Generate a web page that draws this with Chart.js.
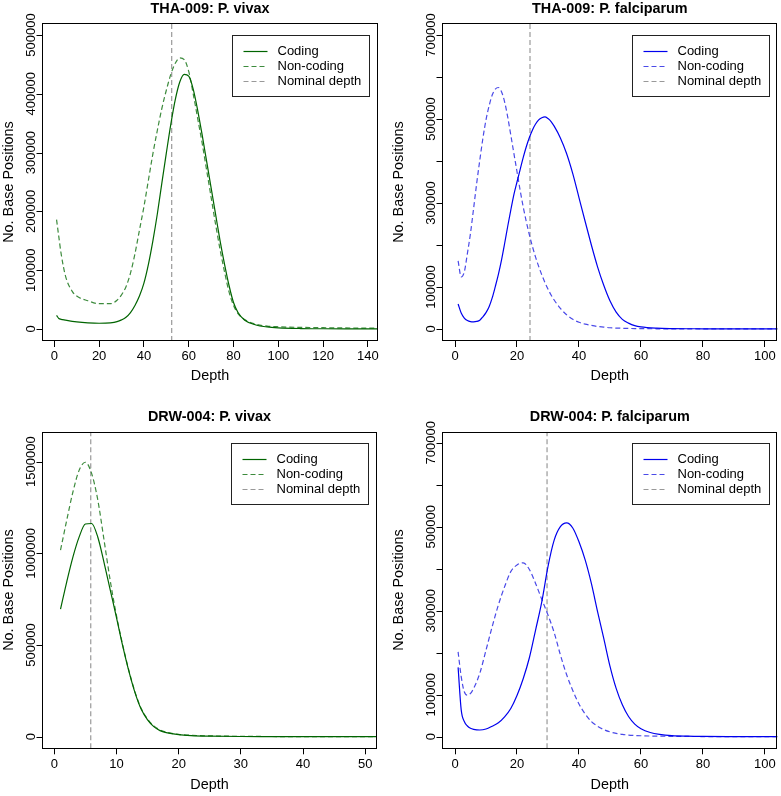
<!DOCTYPE html>
<html lang="en">
<head>
<meta charset="UTF-8">
<title>Depth distributions: THA-009 and DRW-004</title>
<script src="https://cdn.jsdelivr.net/npm/chart.js"></script>
<style>
  body { margin: 0; background: #fff; }
  #wrap { position: relative; width: 781px; height: 796px; }
  canvas { position: absolute; }
</style>
</head>
<body>
<div id="wrap">
  <canvas id="c1" width="390" height="400" style="left:0;top:0"></canvas>
  <canvas id="c2" width="391" height="400" style="left:390px;top:0"></canvas>
  <canvas id="c3" width="390" height="396" style="left:0;top:400px"></canvas>
  <canvas id="c4" width="391" height="396" style="left:390px;top:400px"></canvas>
</div>
<script>
// THA-009: P. vivax
const thaVivDepth = [1,2,3,5,8,10,15,20,25,28,30,32,34,36,38,40,42,44,46,48,50,52,54,56,58,60,62,64,66,68,70,72,74,76,78,80,82,85,90,95,100,110,120,130,145,150];
const thaVivCoding = [23000,18000,16500,15000,13000,12000,10500,9800,10500,12500,15500,20000,28000,40000,56000,78000,110000,150000,196000,248000,299000,348000,390000,420000,433000,430000,408000,372000,330000,285000,240000,195000,150000,110000,74000,45000,28000,15000,6800,3500,2000,800,400,200,80,50];
const thaVivNonCoding = [186000,157000,129000,90000,64000,56000,48000,43000,43000,49000,58000,72000,95000,128000,168000,208000,253000,298000,338000,375000,406000,433000,452000,461000,458000,438000,400000,358000,316000,270000,224000,178000,135000,97000,63000,40000,26000,16000,8000,5000,3800,2800,2200,1800,1500,1400];
const thaVivNominal = 52.4;

// THA-009: P. falciparum
const thaFalDepth = [1,2,3,4,5,6,7,8,9,10,11,12,13,14,15,16,17,18,19,20,21,22,23,24,25,26,27,28,29,30,31,32,34,36,38,40,42,44,46,48,50,52,54,56,58,60,65,70,80,90,105];
const thaFalCoding = [59500,38000,26000,20000,17500,17000,18000,21000,29000,39000,53000,74000,101000,130000,164000,203000,244000,283000,320000,350000,379000,408000,434000,456000,474000,488000,498000,503000,505000,501000,494000,483000,455000,418000,370000,313000,256000,200000,148000,104000,67000,40000,23000,14000,8000,5000,2000,1000,500,300,100];
const thaFalNonCoding = [162000,124000,136000,180000,228000,287000,347000,402000,454000,498000,531000,557000,571000,575000,565000,541000,505000,462000,418000,375000,331000,291000,256000,224000,196000,171000,149000,129000,111000,95000,81000,69000,49000,34000,23000,16000,11500,8500,6000,4500,3000,2200,1700,1300,1000,800,500,300,150,80,50];
const thaFalNominal = 24.2;

// DRW-004: P. vivax
const drwVivDepth = [1,2,3,4,5,6,7,8,9,10,11,12,13,14,15,16,17,18,20,22,25,30,35,40,45,53];
const drwVivCoding = [696000,845000,981000,1090000,1160000,1163000,1088000,950000,800000,650000,495000,356000,238000,148000,92000,55000,33000,22000,11000,6000,3000,1000,500,200,100,50];
const drwVivNonCoding = [1018000,1181000,1336000,1454000,1497000,1436000,1290000,1072000,850000,660000,500000,360000,242000,152000,96000,59000,37000,25000,13000,8000,4500,2000,1000,500,300,200];
const drwVivNominal = 5.86;

// DRW-004: P. falciparum
const drwFalDepth = [1,2,3,4,5,6,8,10,12,14,16,18,20,22,24,26,28,30,32,34,36,38,40,42,44,46,48,50,52,54,56,58,60,63,66,70,75,80,90,105];
const drwFalCoding = [165000,64000,36000,25500,20000,17600,16000,18300,25000,33000,47000,67000,98000,138000,188000,254000,321000,405000,468000,500000,509000,497000,464000,421000,365000,298000,234000,168000,115000,76000,48000,30000,19000,10000,5500,2500,1200,600,200,50];
const drwFalNonCoding = [202000,143000,107000,99000,103000,115000,151000,206000,262000,314000,357000,393000,409000,414000,398000,365000,327000,290000,248000,195000,148000,110000,78000,54000,36000,25000,17000,11500,8000,5500,4000,3000,2300,1600,1200,900,600,400,200,100];
const drwFalNominal = 29.7;

// y tick marks, and the ones R labels (it drops labels that would overlap)
const vivaxTopYTicks = [0,100000,200000,300000,400000,500000];
const vivaxTopYLabels = [0,100000,200000,300000,400000,500000];
const falcYTicks = [0,100000,200000,300000,400000,500000,600000,700000];
const falcYLabels = [0,100000,300000,500000,700000];
const vivaxBottomYTicks = [0,500000,1000000,1500000];
const vivaxBottomYLabels = [0,500000,1000000,1500000];

const FONT = '"Liberation Sans", Arial, Helvetica, sans-serif';
Chart.defaults.font.family = FONT;
Chart.defaults.color = '#000';

const pts = (xs, ys) => xs.map((x, i) => ({x: x, y: ys[i]}));

// box, y axis ticks/labels and boxed legend, drawn the way base R does it
const rFrame = {
  id: 'rFrame',
  afterDraw(chart, args, opts) {
    const {ctx, chartArea: a} = chart;
    ctx.save();
    ctx.strokeStyle = '#000';
    ctx.lineWidth = 1;
    ctx.setLineDash([]);
    ctx.strokeRect(Math.round(a.left) + 0.5, Math.round(a.top) + 0.5,
      Math.round(a.right - a.left) - 1, Math.round(a.bottom - a.top) - 1);

    const ys = chart.scales.y;
    const x0 = Math.round(a.left) + 0.5;
    ctx.beginPath();
    opts.yTicks.forEach(v => {
      const py = Math.round(ys.getPixelForValue(v)) + 0.5;
      ctx.moveTo(x0 - 6, py);
      ctx.lineTo(x0, py);
    });
    ctx.stroke();

    ctx.font = '13px ' + FONT;
    ctx.fillStyle = '#000';
    ctx.textAlign = 'center';
    ctx.textBaseline = 'alphabetic';
    opts.yLabels.forEach(v => {
      ctx.save();
      ctx.translate(a.left - 7, ys.getPixelForValue(v));
      ctx.rotate(-Math.PI / 2);
      ctx.fillText(String(v), 0, 0);
      ctx.restore();
    });

    // legend
    const lw = 137, lh = 61;
    const lx = Math.round(a.right - opts.legendRight - lw) + 0.5;
    const ly = Math.round(a.top + opts.legendTop) + 0.5;
    ctx.fillStyle = '#fff';
    ctx.fillRect(lx, ly, lw, lh);
    ctx.strokeStyle = '#222';
    ctx.strokeRect(lx, ly, lw, lh);
    chart.data.datasets.forEach((ds, i) => {
      const y = Math.round(ly + 15 + i * 15.3) + 0.5;
      ctx.strokeStyle = ds.borderColor;
      ctx.lineWidth = 1.2;
      ctx.setLineDash(ds.borderDash || []);
      ctx.beginPath();
      ctx.moveTo(lx + 11, y);
      ctx.lineTo(lx + 35, y);
      ctx.stroke();
      ctx.setLineDash([]);
      ctx.fillStyle = '#000';
      ctx.textAlign = 'left';
      ctx.textBaseline = 'middle';
      ctx.fillText(ds.label, lx + 45, y);
    });
    ctx.restore();
  }
};

function makePanel(id, p) {
  const canvas = document.getElementById(id);
  const W = canvas.width, H = canvas.height;
  new Chart(canvas, {
    type: 'line',
    data: {
      datasets: [
        { label: 'Coding', data: pts(p.depth, p.coding), borderColor: p.solid,
          borderWidth: 1.2, pointRadius: 0, cubicInterpolationMode: 'monotone' },
        { label: 'Non-coding', data: pts(p.depth, p.nonCoding), borderColor: p.dashed,
          borderWidth: 1.2, borderDash: [5, 3], pointRadius: 0, cubicInterpolationMode: 'monotone' },
        { label: 'Nominal depth', data: [{x: p.nominal, y: p.yMin}, {x: p.nominal, y: p.yMax}],
          borderColor: '#999999', borderWidth: 1.2, borderDash: [5, 3], pointRadius: 0, tension: 0 }
      ]
    },
    options: {
      responsive: false,
      animation: false,
      events: [],
      layout: { padding: { left: 0, top: 0, bottom: 0, right: W - p.box.right } },
      plugins: {
        legend: { display: false },
        tooltip: { enabled: false },
        title: {
          display: true, text: p.title, fullSize: false, color: '#000',
          font: { size: 14.4, weight: 'bold', lineHeight: 1 },
          padding: { top: p.titlePad[0], bottom: p.titlePad[1] }
        },
        rFrame: { yTicks: p.yTicks, yLabels: p.yLabels, legendRight: p.legendRight, legendTop: p.legendTop }
      },
      scales: {
        x: {
          type: 'linear', min: p.xMin, max: p.xMax,
          border: { display: false },
          grid: { drawOnChartArea: false, drawTicks: true, tickLength: 6, tickColor: '#000', tickWidth: 1 },
          ticks: { stepSize: p.xStep, includeBounds: false, autoSkip: false, maxRotation: 0,
                   padding: 2, font: { size: 13 }, color: '#000' },
          title: { display: true, text: 'Depth', color: '#000', font: { size: 14.4, lineHeight: 1 },
                   padding: { top: 0, bottom: p.xTitlePad } },
          afterFit: s => { s.height = H - p.box.bottom; }
        },
        y: {
          type: 'linear', min: p.yMin, max: p.yMax,
          border: { display: false },
          grid: { display: false },
          ticks: { display: false },
          title: { display: true, text: 'No. Base Positions', color: '#000', font: { size: 14.4, lineHeight: 1 },
                   padding: { top: 2.3, bottom: 0 } },
          afterFit: s => { s.width = p.box.left; }
        }
      }
    },
    plugins: [rFrame]
  });
}

const GREEN = '#006400', GREEN_DASH = '#3d8b3d';
const BLUE = '#0000ee', BLUE_DASH = '#4a4ae8';

makePanel('c1', {
  title: 'THA-009: P. vivax', depth: thaVivDepth, coding: thaVivCoding, nonCoding: thaVivNonCoding,
  nominal: thaVivNominal, solid: GREEN, dashed: GREEN_DASH,
  xMin: -5.5, xMax: 144.5, xStep: 20, yMin: -20400, yMax: 520400,
  yTicks: vivaxTopYTicks, yLabels: vivaxTopYLabels,
  box: { left: 42, right: 378, bottom: 341 }, titlePad: [1.5, 7.1], xTitlePad: 16.6,
  legendRight: 9, legendTop: 12
});
makePanel('c2', {
  title: 'THA-009: P. falciparum', depth: thaFalDepth, coding: thaFalCoding, nonCoding: thaFalNonCoding,
  nominal: thaFalNominal, solid: BLUE, dashed: BLUE_DASH,
  xMin: -4.1, xMax: 104, xStep: 20, yMin: -28600, yMax: 728600,
  yTicks: falcYTicks, yLabels: falcYLabels,
  box: { left: 52.3, right: 387.3, bottom: 341 }, titlePad: [1.5, 7.1], xTitlePad: 16.6,
  legendRight: 8.3, legendTop: 12
});
makePanel('c3', {
  title: 'DRW-004: P. vivax', depth: drwVivDepth, coding: drwVivCoding, nonCoding: drwVivNonCoding,
  nominal: drwVivNominal, solid: GREEN, dashed: GREEN_DASH,
  xMin: -1.98, xMax: 51.9, xStep: 10, yMin: -63300, yMax: 1663600,
  yTicks: vivaxBottomYTicks, yLabels: vivaxBottomYLabels,
  box: { left: 42, right: 377, bottom: 348.3 }, titlePad: [9.5, 7.8], xTitlePad: 4.1,
  legendRight: 9, legendTop: 11.3
});
makePanel('c4', {
  title: 'DRW-004: P. falciparum', depth: drwFalDepth, coding: drwFalCoding, nonCoding: drwFalNonCoding,
  nominal: drwFalNominal, solid: BLUE, dashed: BLUE_DASH,
  xMin: -4.1, xMax: 104, xStep: 20, yMin: -27600, yMax: 726200,
  yTicks: falcYTicks, yLabels: falcYLabels,
  box: { left: 52.3, right: 387.3, bottom: 348.3 }, titlePad: [9.5, 7.8], xTitlePad: 4.1,
  legendRight: 8.3, legendTop: 11.3
});
</script>
</body>
</html>
